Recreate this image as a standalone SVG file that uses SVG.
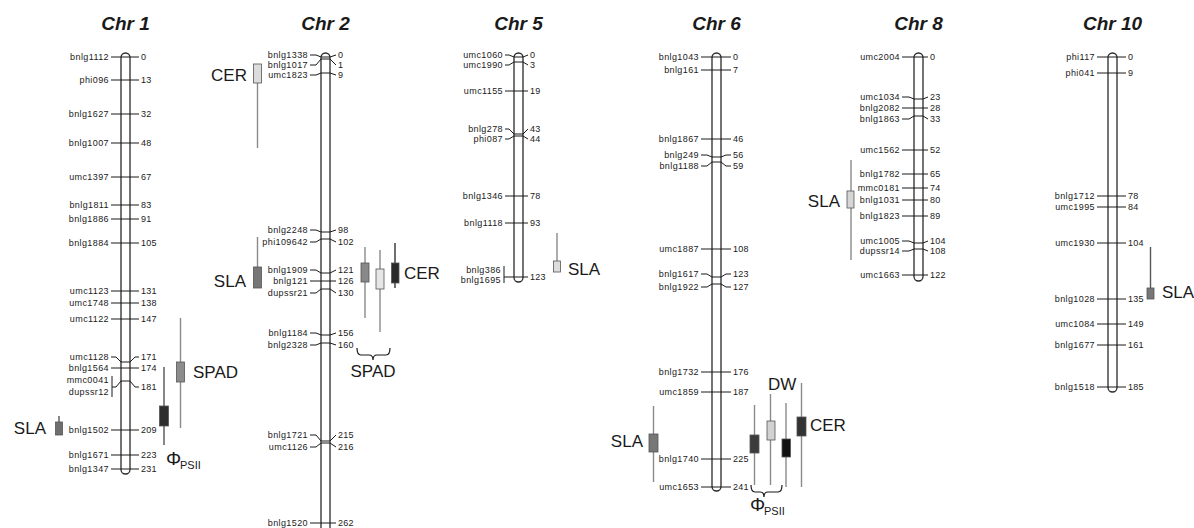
<svg xmlns="http://www.w3.org/2000/svg" width="1194" height="528" viewBox="0 0 1194 528">
<style>
text{font-family:"Liberation Sans",Arial,sans-serif;fill:#1a1a1a}
.ttl{font-size:19px;font-weight:bold;font-style:italic;text-anchor:middle}
.mk{font-size:9px;text-anchor:end;letter-spacing:0.4px}
.num{font-size:9px;letter-spacing:0.3px}
.big{font-size:17px}
.sub{font-size:11px}
.chrom{fill:#fff;stroke:#2a2a2a;stroke-width:1.3}
.tick{fill:none;stroke:#1a1a1a;stroke-width:1}
.wh{stroke:#8a8a8a;stroke-width:1.4;fill:none}
.whd{stroke:#555;stroke-width:1.4;fill:none}
.box{stroke:#555;stroke-width:0.8}
</style>
<rect width="1194" height="528" fill="#fff"/>

<g id="chr1">
<text class="ttl" x="125.5" y="30">Chr 1</text>
<rect class="chrom" x="121" y="53" width="9" height="421" rx="4.5"/>
<path class="tick" d="M111 57H139M111 80H139M111 114H139M111 143H139M111 177H139M111 205H139M111 219H139M111 243H139M111 291H139M111 303H139M111 319H139M111 368H139M111 430H139M111 455H139M111 469H139M111 357H116L121 362H130L135 357H139M112 376V397M112 387H116L121 381H130L135 387H139"/>
<g class="mk">
<text x="109" y="60">bnlg1112</text><text x="109" y="83">phi096</text><text x="109" y="117">bnlg1627</text><text x="109" y="146">bnlg1007</text><text x="109" y="180">umc1397</text><text x="109" y="208">bnlg1811</text><text x="109" y="222">bnlg1886</text><text x="109" y="246">bnlg1884</text><text x="109" y="294">umc1123</text><text x="109" y="306">umc1748</text><text x="109" y="322">umc1122</text><text x="109" y="360">umc1128</text><text x="109" y="371">bnlg1564</text><text x="109" y="383">mmc0041</text><text x="109" y="395">dupssr12</text><text x="109" y="433">bnlg1502</text><text x="109" y="458">bnlg1671</text><text x="109" y="472">bnlg1347</text>
</g>
<g class="num">
<text x="141" y="60">0</text><text x="141" y="83">13</text><text x="141" y="117">32</text><text x="141" y="146">48</text><text x="141" y="180">67</text><text x="141" y="208">83</text><text x="141" y="222">91</text><text x="141" y="246">105</text><text x="141" y="294">131</text><text x="141" y="306">138</text><text x="141" y="322">147</text><text x="141" y="360">171</text><text x="141" y="371">174</text><text x="141" y="390">181</text><text x="141" y="433">209</text><text x="141" y="458">223</text><text x="141" y="472">231</text>
</g>
</g>

<g id="chr2">
<text class="ttl" x="325.5" y="30">Chr 2</text>
<rect class="chrom" x="321" y="53" width="9" height="490" rx="4.5"/>
<path class="tick" d="M310 55H316L321 57H330L336 55M310 65H316L321 59H330L336 65M310 75H316L321 73H330L336 75M310 230H316L321 232H330L336 230M310 242H316L321 239H330L336 242M310 270H316L321 273H330L336 270M310 281H336M310 293H316L321 289H330L336 293M310 333H316L321 335H330L336 333M310 345H316L321 343H330L336 345M310 435H316L321 441H330L336 435M310 447H316L321 443H330L336 447M310 523H336"/>
<g class="mk">
<text x="308" y="58">bnlg1338</text><text x="308" y="68">bnlg1017</text><text x="308" y="78">umc1823</text><text x="308" y="233">bnlg2248</text><text x="308" y="245">phi109642</text><text x="308" y="273">bnlg1909</text><text x="308" y="284">bnlg121</text><text x="308" y="296">dupssr21</text><text x="308" y="336">bnlg1184</text><text x="308" y="348">bnlg2328</text><text x="308" y="438">bnlg1721</text><text x="308" y="450">umc1126</text><text x="308" y="526">bnlg1520</text>
</g>
<g class="num">
<text x="338" y="58">0</text><text x="338" y="68">1</text><text x="338" y="78">9</text><text x="338" y="233">98</text><text x="338" y="245">102</text><text x="338" y="273">121</text><text x="338" y="284">126</text><text x="338" y="296">130</text><text x="338" y="336">156</text><text x="338" y="348">160</text><text x="338" y="438">215</text><text x="338" y="450">216</text><text x="338" y="526">262</text>
</g>
</g>

<g id="chr5">
<text class="ttl" x="518.5" y="30">Chr 5</text>
<rect class="chrom" x="514" y="53" width="9" height="229" rx="4.5"/>
<path class="tick" d="M505 55H509L514 57H523L528 55M505 65H509L514 62H523L528 65M505 91H528M505 129H509L514 134H523L528 129M505 139H509L514 136H523L528 139M505 196H528M505 223H528M504 266V283M504 277H528"/>
<g class="mk">
<text x="503" y="58">umc1060</text><text x="503" y="68">umc1990</text><text x="503" y="94">umc1155</text><text x="503" y="132">bnlg278</text><text x="503" y="142">phi087</text><text x="503" y="199">bnlg1346</text><text x="503" y="226">bnlg1118</text><text x="501" y="273">bnlg386</text><text x="501" y="283">bnlg1695</text>
</g>
<g class="num">
<text x="530" y="58">0</text><text x="530" y="68">3</text><text x="530" y="94">19</text><text x="530" y="132">43</text><text x="530" y="142">44</text><text x="530" y="199">78</text><text x="530" y="226">93</text><text x="530" y="280">123</text>
</g>
</g>

<g id="chr6">
<text class="ttl" x="716.5" y="30">Chr 6</text>
<rect class="chrom" x="712" y="53" width="9" height="438" rx="4.5"/>
<path class="tick" d="M701 57H731M701 70H731M701 139H731M701 155H707L712 157H721L726 155H731M701 166H707L712 162H721L726 166H731M701 249H731M701 274H707L712 277H721L726 274H731M701 287H707L712 284H721L726 287H731M701 372H731M701 392H731M701 459H731M701 487H731"/>
<g class="mk">
<text x="699" y="60">bnlg1043</text><text x="699" y="73">bnlg161</text><text x="699" y="142">bnlg1867</text><text x="699" y="158">bnlg249</text><text x="699" y="169">bnlg1188</text><text x="699" y="252">umc1887</text><text x="699" y="277">bnlg1617</text><text x="699" y="290">bnlg1922</text><text x="699" y="375">bnlg1732</text><text x="699" y="395">umc1859</text><text x="699" y="462">bnlg1740</text><text x="699" y="490">umc1653</text>
</g>
<g class="num">
<text x="733" y="60">0</text><text x="733" y="73">7</text><text x="733" y="142">46</text><text x="733" y="158">56</text><text x="733" y="169">59</text><text x="733" y="252">108</text><text x="733" y="277">123</text><text x="733" y="290">127</text><text x="733" y="375">176</text><text x="733" y="395">187</text><text x="733" y="462">225</text><text x="733" y="490">241</text>
</g>
</g>

<g id="chr8">
<text class="ttl" x="918.5" y="30">Chr 8</text>
<rect class="chrom" x="914" y="53" width="9" height="228" rx="4.5"/>
<path class="tick" d="M902 57H928M902 97H909L914 99H923L928 97M902 108H928M902 119H909L914 116H923L928 119M902 150H928M902 174H928M902 188H928M902 200H928M902 216H928M902 241H909L914 243H923L928 241M902 251H909L914 249H923L928 251M902 275H928"/>
<g class="mk">
<text x="900" y="60">umc2004</text><text x="900" y="100">umc1034</text><text x="900" y="111">bnlg2082</text><text x="900" y="122">bnlg1863</text><text x="900" y="153">umc1562</text><text x="900" y="177">bnlg1782</text><text x="900" y="191">mmc0181</text><text x="900" y="203">bnlg1031</text><text x="900" y="219">bnlg1823</text><text x="900" y="244">umc1005</text><text x="900" y="254">dupssr14</text><text x="900" y="278">umc1663</text>
</g>
<g class="num">
<text x="930" y="60">0</text><text x="930" y="100">23</text><text x="930" y="111">28</text><text x="930" y="122">33</text><text x="930" y="153">52</text><text x="930" y="177">65</text><text x="930" y="191">74</text><text x="930" y="203">80</text><text x="930" y="219">89</text><text x="930" y="244">104</text><text x="930" y="254">108</text><text x="930" y="278">122</text>
</g>
</g>

<g id="chr10">
<text class="ttl" x="1112.5" y="30">Chr 10</text>
<rect class="chrom" x="1108" y="53" width="9" height="339" rx="4.5"/>
<path class="tick" d="M1097 57H1126M1097 73H1126M1097 196H1126M1097 207H1126M1097 243H1126M1097 299H1126M1097 324H1126M1097 345H1126M1097 387H1126"/>
<g class="mk">
<text x="1095" y="60">phi117</text><text x="1095" y="76">phi041</text><text x="1095" y="199">bnlg1712</text><text x="1095" y="210">umc1995</text><text x="1095" y="246">umc1930</text><text x="1095" y="302">bnlg1028</text><text x="1095" y="327">umc1084</text><text x="1095" y="348">bnlg1677</text><text x="1095" y="390">bnlg1518</text>
</g>
<g class="num">
<text x="1128" y="60">0</text><text x="1128" y="76">9</text><text x="1128" y="199">78</text><text x="1128" y="210">84</text><text x="1128" y="246">104</text><text x="1128" y="302">135</text><text x="1128" y="327">149</text><text x="1128" y="348">161</text><text x="1128" y="390">185</text>
</g>
</g>

<g id="qtl-chr1">
<text class="big" x="46" y="434" text-anchor="end">SLA</text>
<path class="whd" d="M59 416V422"/>
<rect class="box" x="55.5" y="422" width="7" height="13" fill="#6e6e6e"/>
<path class="whd" d="M164 367V445"/>
<rect class="box" x="159.5" y="406" width="9" height="20" fill="#2e2e2e"/>
<text x="166" y="465" style="font-size:19px">Φ</text><text class="sub" x="180" y="469">PSII</text>
<path class="wh" d="M180.5 318V428"/>
<rect class="box" x="176.5" y="362" width="8" height="20" fill="#8c8c8c"/>
<text class="big" x="193" y="378">SPAD</text>
</g>

<g id="qtl-chr2">
<text class="big" x="247" y="81" text-anchor="end">CER</text>
<path class="wh" d="M257.5 83V148"/>
<rect class="box" x="253.5" y="64" width="8" height="19" fill="#dcdcdc"/>
<text class="big" x="246" y="287" text-anchor="end">SLA</text>
<path class="wh" d="M257.5 237V267"/>
<rect class="box" x="253.5" y="267" width="8" height="21" fill="#777"/>
<path class="wh" d="M365 247V318"/>
<rect class="box" x="361" y="263" width="8" height="19" fill="#888"/>
<path class="wh" d="M380 250V332"/>
<rect class="box" x="376" y="269" width="8" height="20" fill="#e6e6e6"/>
<path class="whd" d="M395 243V288" style="stroke:#333"/>
<rect class="box" x="391.5" y="263" width="7.5" height="20" fill="#2a2a2a"/>
<text class="big" x="404" y="279">CER</text>
<text class="big" x="373" y="377" text-anchor="middle">SPAD</text>
</g>

<g id="qtl-chr5">
<path class="wh" d="M557 233V261"/>
<rect class="box" x="553.5" y="261" width="7" height="11" fill="#ddd"/>
<text class="big" x="568" y="275">SLA</text>
</g>

<g id="qtl-chr6">
<text class="big" x="643" y="447" text-anchor="end">SLA</text>
<path class="wh" d="M653.5 406V482"/>
<rect class="box" x="649" y="434" width="9" height="18" fill="#777"/>
<path class="wh" d="M754.5 405V485"/>
<rect class="box" x="750" y="435" width="9" height="18" fill="#3c3c3c"/>
<path class="wh" d="M770.5 394V485"/>
<rect class="box" x="767" y="421" width="8" height="19" fill="#d2d2d2"/>
<path class="wh" d="M786 403V487"/>
<rect class="box" x="782" y="439" width="8.5" height="18" fill="#111"/>
<path class="wh" d="M801.5 383V487"/>
<rect class="box" x="797" y="417" width="9" height="19" fill="#333"/>
<text class="big" x="768" y="390">DW</text>
<text class="big" x="810" y="431">CER</text>
<text x="750" y="511" style="font-size:19px">Φ</text><text class="sub" x="764" y="515">PSII</text>
</g>

<g id="qtl-chr8">
<text class="big" x="840" y="207" text-anchor="end">SLA</text>
<path class="wh" d="M851 160V260"/>
<rect class="box" x="847" y="191" width="7" height="17" fill="#d5d5d5"/>
</g>

<g id="qtl-chr10">
<path class="whd" d="M1150.5 247V288"/>
<rect class="box" x="1147" y="288" width="7" height="11" fill="#777"/>
<text class="big" x="1162" y="298">SLA</text>
</g>

<g id="connectors" fill="none" stroke="#1a1a1a" stroke-width="1.2">
<path d="M357 348Q357 355 361 355H369Q373 355 373 360Q373 355 377 355H386Q390 355 390 348"/>
<path d="M751 485Q751 492 755 492H760Q764 492 764 497Q764 492 768 492H778Q782 492 782 485"/>
</g>
</svg>
